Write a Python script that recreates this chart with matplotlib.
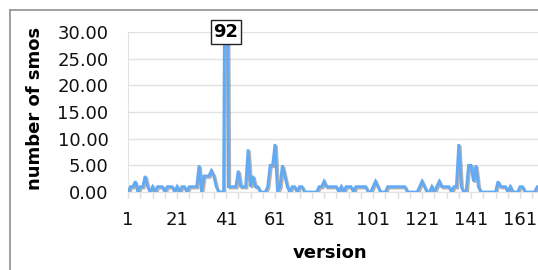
import matplotlib
matplotlib.use("Agg")
import matplotlib.pyplot as plt
import matplotlib.patheffects as pe
from matplotlib.lines import Line2D
from matplotlib.ticker import FixedLocator, FormatStrFormatter
import numpy as np

# number of smos per version (versions 1..169)
smos = [
    0, 1, 1, 2, 0, 1, 1, 3, 1, 0,      # 1-10
    1, 0, 1, 1, 1, 0, 1, 1, 1, 0,      # 11-20
    1, 0, 1, 1, 0, 1, 1, 1, 1, 5,      # 21-30
    0, 3, 3, 3, 4, 3, 1, 0, 0, 0,      # 31-40
    92, 1, 1, 1, 1, 4, 1, 1, 1, 8,     # 41-50
    1, 3, 1, 1, 0, 0, 0, 1, 5, 5,      # 51-60
    9, 0, 1, 5, 3, 1, 0, 1, 1, 0,      # 61-70
    1, 1, 0, 0, 0, 0, 0, 0, 1, 1,      # 71-80
    2, 1, 1, 1, 1, 1, 0, 1, 0, 1,      # 81-90
    1, 1, 0, 1, 1, 1, 1, 1, 0, 0,      # 91-100
    1, 2, 1, 0, 0, 0, 1, 1, 1, 1,      # 101-110
    1, 1, 1, 1, 0, 0, 0, 0, 0, 1,      # 111-120
    2, 1, 0, 0, 1, 0, 1, 2, 1, 1,      # 121-130
    1, 1, 0, 1, 1, 9, 1, 0, 0, 5,      # 131-140
    5, 2, 5, 1, 0, 0, 0, 0, 0, 0,      # 141-150
    0, 2, 1, 1, 1, 0, 1, 0, 0, 0,      # 151-160
    1, 1, 0, 0, 0, 0, 0, 1, 1,         # 161-169
]
versions = list(range(1, len(smos) + 1))
xtick_labels = [1, 21, 41, 61, 81, 101, 121, 141, 161]
yticks = [0, 5, 10, 15, 20, 25, 30]

W, H = 538, 270
fig = plt.figure(figsize=(W / 100, H / 100), dpi=100)
fig.patch.set_facecolor("white")

ax_left, ax_bottom, ax_top = 128 / W, (H - 192) / H, (H - 32) / H
ax = fig.add_axes([ax_left, ax_bottom, 1.0 - ax_left, ax_top - ax_bottom])

blue = "#62aaf4"
ax.plot(versions, smos, color=blue, lw=2.0, solid_joinstyle="miter",
        path_effects=[pe.SimpleLineShadow(offset=(1.0, -1.0), shadow_color="#666666", alpha=0.5),
                      pe.Normal()], zorder=3)

ax.set_xlim(1, 1 + (W - 128) / 2.45)
ax.set_ylim(0, 30)

ax.yaxis.set_major_locator(FixedLocator(yticks))
ax.yaxis.set_major_formatter(FormatStrFormatter("%.2f"))
ax.set_xticks(xtick_labels)
ax.set_xticklabels([str(v) for v in xtick_labels])
ax.set_xticks(list(range(1, 170, 5)), minor=True)

ax.grid(axis="y", color="#e2e2e2", lw=1.0, zorder=0)
for s in ["top", "right"]:
    ax.spines[s].set_visible(False)
ax.spines["left"].set_color("#e2e2e2")
ax.spines["bottom"].set_color("#e2e2e2")

ax.tick_params(axis="y", length=0, pad=14, labelsize=13, labelcolor="#111111")
ax.tick_params(axis="x", which="both", length=4, color="#dddddd", width=1)
ax.tick_params(axis="x", which="major", pad=10, labelsize=13, labelcolor="#111111")

axw = W - 128
axh = 192 - 32
ax.set_ylabel("number of smos", fontsize=13, fontweight="bold")
ax.yaxis.set_label_coords((35 - 128) / axw, (192 - 108) / axh)
ax.set_xlabel("version", fontsize=13, fontweight="bold")
ax.xaxis.set_label_coords((330 - 128) / axw, -(253 - 192) / axh)
ax.xaxis.label.set_va("center")
ax.yaxis.label.set_va("center")

# label for clipped peak
imax = int(np.argmax(smos))
ax.annotate(str(smos[imax]), xy=(versions[imax], 30), xycoords="data",
            ha="center", va="center", fontsize=13, fontweight="bold",
            bbox=dict(boxstyle="square,pad=0.15", fc="white", ec="#222222", lw=1.0),
            zorder=5, annotation_clip=False)

# outer frame lines
fig.add_artist(Line2D([10 / W, 1.0], [(H - 10) / H] * 2, color="#999999", lw=1.3,
                      transform=fig.transFigure))
fig.add_artist(Line2D([10 / W] * 2, [0, (H - 10) / H], color="#999999", lw=1.3,
                      transform=fig.transFigure))

fig.savefig("out.png", dpi=100)
